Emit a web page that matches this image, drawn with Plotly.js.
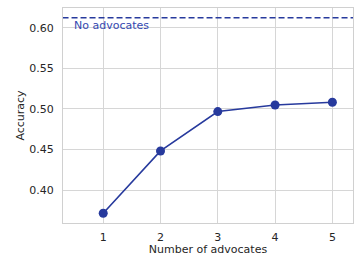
<!DOCTYPE html>
<html><head><meta charset="utf-8">
<script src="https://cdn.plot.ly/plotly-3.0.1.min.js"></script>
<style>html,body{margin:0;padding:0;background:#fff}</style>
</head><body><div id="chart" style="width:354px;height:256px"></div>
<script>
const advocates = [1, 2, 3, 4, 5];
const accuracy = [0.3716, 0.4483, 0.4968, 0.5049, 0.5083];
const baseline = 0.6123;
const baselineLabel = "No advocates";
const yTicks = [0.40, 0.45, 0.50, 0.55, 0.60];
const yTickText = ["0.40", "0.45", "0.50", "0.55", "0.60"];
const color = "#273a9d";

const data = [
  {x: [0.29, 5.37], y: [baseline, baseline], mode: "lines", line: {color: color, width: 1.5, dash: "6px,3px"}, hoverinfo: "skip", showlegend: false},
  {x: advocates, y: accuracy, mode: "lines+markers", line: {color: color, width: 1.6}, marker: {color: color, size: 9}, showlegend: false}
];
const layout = {
  width: 354, height: 256,
  margin: {l: 63, r: 1, t: 8, b: 33},
  paper_bgcolor: "#fff", plot_bgcolor: "#fff",
  font: {family: "DejaVu Sans", size: 11, color: "#262626"},
  xaxis: {range: [0.298, 5.36], tickvals: advocates, ticks: "", showgrid: true, gridcolor: "#d6d6d6", gridwidth: 1, zeroline: false,
          showline: true, linecolor: "#d0d0d0", mirror: true, linewidth: 1, ticklabelstandoff: 4,
          title: {text: "Number of advocates", font: {size: 11, color: "#262626"}, standoff: 7}},
  yaxis: {range: [0.3596, 0.6243], tickvals: yTicks, ticktext: yTickText, ticks: "", showgrid: true, gridcolor: "#d6d6d6", gridwidth: 1, zeroline: false,
          showline: true, linecolor: "#d0d0d0", mirror: true, linewidth: 1, ticklabelstandoff: 6,
          title: {text: "Accuracy", font: {size: 11, color: "#262626"}, standoff: 2}},
  annotations: [{x: 0.5, y: baseline, xref: "x", yref: "y", text: baselineLabel, showarrow: false, xanchor: "left", yanchor: "top",
                 font: {family: "DejaVu Sans", size: 11, color: "#3448b0"}, xshift: -3, yshift: 1}]
};
Plotly.newPlot("chart", data, layout, {displayModeBar: false, staticPlot: true});
</script></body></html>
